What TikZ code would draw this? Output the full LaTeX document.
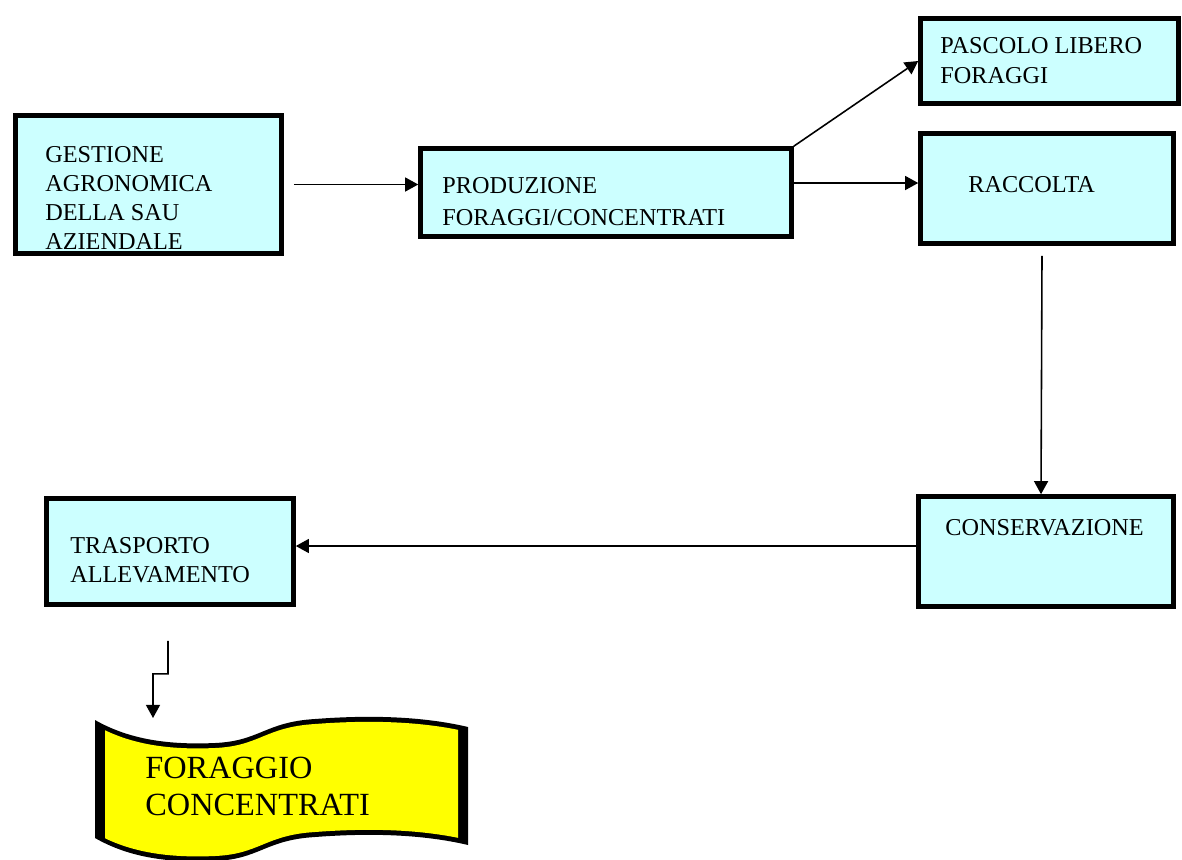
\documentclass[tikz,border=0pt]{standalone}
\usepackage{fontspec}
\setmainfont{Liberation Serif}
\usetikzlibrary{arrows.meta,calc}
\definecolor{boxcyan}{HTML}{CCFFFF}
\definecolor{banyellow}{HTML}{FFFF00}
\newcommand\wavetop[1]{(95,{720+#1}) .. controls (130,{740+#1}) and (170,{745+#1}) .. (215,{743+#1}) .. controls (260,{741+#1}) and (265,{722+#1}) .. (315,{719+#1}) .. controls (380,{714+#1}) and (430,{718+#1}) .. (468,{727+#1})}
\newcommand\wavebot[1]{(468,{727+#1}) .. controls (430,{718+#1}) and (380,{714+#1}) .. (315,{719+#1}) .. controls (265,{722+#1}) and (260,{741+#1}) .. (215,{743+#1}) .. controls (170,{745+#1}) and (130,{740+#1}) .. (95,{720+#1})}
\begin{document}
\begin{tikzpicture}[x=0.02cm,y=-0.02cm,
  box/.style={draw=black,line width=2.9pt,fill=boxcyan,rectangle,inner sep=0pt},
  lbl/.style={anchor=base west,inner sep=0pt,align=left,font=\fontsize{13.8}{16.4}\selectfont},
  arr/.style={line width=0.9pt,-{Triangle[length=7.5pt,width=8pt]}}]
\useasboundingbox (0,0) rectangle (1182,859);

% boxes
\node[box,minimum width=5.31cm,minimum height=2.75cm] (G) at (148.5,184.5) {};
\node[box,minimum width=7.41cm,minimum height=1.75cm] (P) at (606,192.5) {};
\node[box,minimum width=5.15cm,minimum height=1.69cm] (Pa) at (1049.5,61) {};
\node[box,minimum width=5.05cm,minimum height=2.19cm] (R) at (1047,188.5) {};
\node[box,minimum width=5.09cm,minimum height=2.19cm] (C) at (1046,551.5) {};
\node[box,minimum width=4.93cm,minimum height=2.11cm] (T) at (170,551.5) {};

% labels (anchor = baseline of the last line)
\node[lbl] (Gt) at (45,249) {GESTIONE\\AGRONOMICA\\DELLA SAU\\AZIENDALE};
\node[lbl,font=\fontsize{13.8}{18.2}\selectfont] (Pt) at (442,225) {PRODUZIONE\\FORAGGI/CONCENTRATI};
\node[lbl,font=\fontsize{13.8}{17}\selectfont] (Pat) at (940,83) {PASCOLO LIBERO\\FORAGGI};
\node[lbl] (Rt) at (968,192) {RACCOLTA};
\node[lbl] (Ct) at (945,535) {CONSERVAZIONE};
\node[lbl] (Tt) at (70,582) {TRASPORTO\\ALLEVAMENTO};

% banner
\fill[black] \wavetop{0} -- \wavebot{118} -- cycle;
\begin{scope}
  \clip (105,700) rectangle (458,870);
  \fill[banyellow] \wavetop{5} -- \wavebot{113} -- cycle;
\end{scope}
\coordinate (bn) at (153,718);
\node[lbl,font=\fontsize{18.4}{21}\selectfont] (Bt) at (145,815) {FORAGGIO\\CONCENTRATI};

% connectors
\draw[arr] ([xshift=0.2cm]G.east) -- (G.east -| P.west);
\draw[arr] ([yshift=0.19cm]P.east) -- ([yshift=0.19cm]P.east -| R.west);
\draw[arr] (P.north east) -- (Pa.west);
\draw[arr] ([shift={(-0.1cm,-0.2cm)}]R.south) -- ([xshift=-0.1cm]C.north);
\draw[arr] ([yshift=0.11cm]C.west) -- ([yshift=0.11cm]C.west -| T.east);
\draw[arr] ([shift={(-0.04cm,-0.68cm)}]T.south) -- ++(0,33) -- ++(-15,0) -- (bn);
\end{tikzpicture}
\end{document}
